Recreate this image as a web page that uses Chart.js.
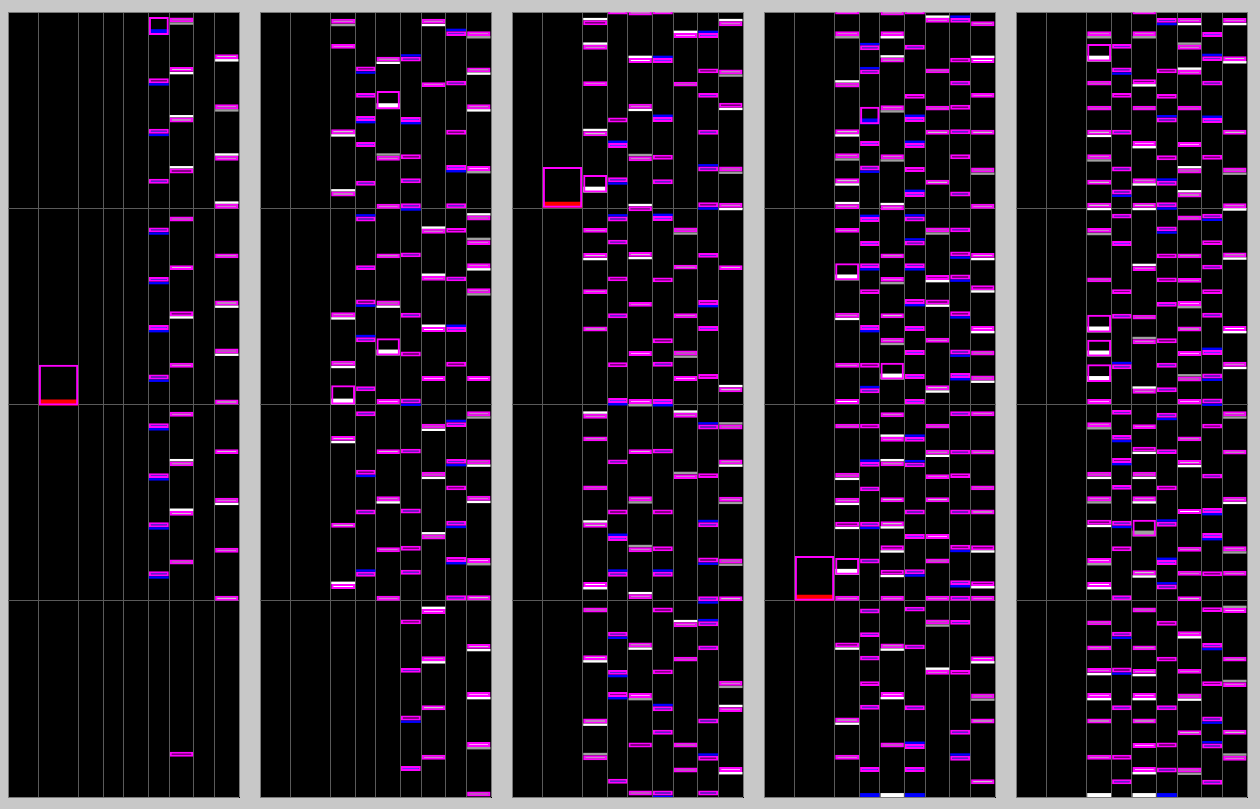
<!DOCTYPE html>
<html><head><meta charset="utf-8">
<script src="https://cdn.jsdelivr.net/npm/chart.js@4/dist/chart.umd.min.js"></script>
<style>
html,body{margin:0;padding:0;background:#c8c8c8;width:1260px;height:809px;overflow:hidden}
.panel{position:absolute;top:12px;width:232px;height:786px;background:#000}
canvas{display:block}
</style></head><body>
<div class="panel" style="left:8px"><canvas id="c0" width="232" height="786"></canvas></div>
<div class="panel" style="left:260px"><canvas id="c1" width="232" height="786"></canvas></div>
<div class="panel" style="left:512px"><canvas id="c2" width="232" height="786"></canvas></div>
<div class="panel" style="left:764px"><canvas id="c3" width="232" height="786"></canvas></div>
<div class="panel" style="left:1016px"><canvas id="c4" width="232" height="786"></canvas></div>
<script>
// ---- data ----
const columnWidths = [30.5, 40.5, 25, 20.5, 24.5, 21, 24.5, 21, 24.5];
const rowTicks = [0, 4, 8, 12, 16];
// mark kind: 1st char = inner colour (w white, p pink, v violet, d dark), 2nd = strip (upper = below, lower = above, '-' none)
const panel1Marks = [
  [], [], [], [], [],
  [[1.40,'dB'],[2.43,'vB'],[3.45,'v-'],[4.44,'vB'],[5.45,'vB'],[6.43,'vB'],[7.44,'vB'],[8.43,'vB'],[9.45,'vB'],[10.45,'vB'],[11.45,'vB']],
  [[0.16,'pG'],[1.17,'wW'],[2.20,'ww'],[3.24,'dw'],[4.22,'p-'],[5.21,'w-'],[6.15,'dW'],[7.20,'p-'],[8.20,'p-'],[9.21,'ww'],[10.22,'ww'],[11.21,'p-'],[15.13,'d-']],
  [],
  [[0.91,'wW'],[1.93,'pG'],[2.98,'pw'],[3.96,'pw'],[4.97,'w-'],[5.93,'wW'],[6.91,'pW'],[7.95,'w-'],[8.96,'w-'],[9.95,'pW'],[10.97,'p-'],[11.95,'w-']]
];
const panel2Marks = [
  [], [],
  [[0.19,'pG'],[0.70,'p-'],[2.44,'wW'],[3.71,'ww'],[6.17,'pW'],[7.16,'pW'],[8.69,'wW'],[10.46,'w-'],[11.71,'ww']],
  [[1.16,'dB'],[1.70,'v-'],[2.17,'vB'],[2.70,'v-'],[3.49,'v-'],[4.22,'vb'],[5.21,'v-'],[5.91,'dB'],[6.68,'vb'],[7.68,'v-'],[8.19,'v-'],[9.38,'dB'],[10.19,'v-'],[11.46,'vb']],
  [[0.96,'wW'],[2.98,'pg'],[3.96,'p-'],[4.97,'w-'],[5.93,'pW'],[7.94,'p-'],[8.96,'w-'],[9.92,'pW'],[10.96,'p-'],[11.95,'p-']],
  [[0.96,'vb'],[2.19,'vB'],[2.95,'d-'],[3.44,'v-'],[3.95,'vB'],[4.95,'v-'],[6.18,'v-'],[6.97,'d-'],[7.93,'vB'],[8.95,'v-'],[10.17,'v-'],[10.93,'d-'],[11.42,'v-'],[12.43,'d-'],[13.42,'v-'],[14.39,'dB'],[15.42,'v-']],
  [[0.19,'pW'],[1.48,'p-'],[4.47,'pw'],[5.43,'pw'],[6.47,'ww'],[7.47,'p-'],[8.44,'pW'],[9.42,'pW'],[10.70,'pw'],[12.22,'pw'],[13.18,'pW'],[14.18,'w-'],[15.19,'p-']],
  [[0.44,'vb'],[1.45,'v-'],[2.45,'d-'],[3.17,'vB'],[3.95,'v-'],[4.45,'d-'],[5.44,'v-'],[6.47,'vb'],[7.18,'d-'],[8.41,'vb'],[9.16,'vB'],[9.70,'d-'],[10.42,'vB'],[11.16,'dB'],[11.94,'v-']],
  [[0.44,'pG'],[1.18,'wW'],[1.93,'pW'],[3.19,'pG'],[4.20,'pw'],[4.70,'pg'],[5.17,'pW'],[5.68,'pG'],[7.47,'p-'],[8.19,'pG'],[9.17,'pW'],[9.91,'pW'],[11.18,'pG'],[11.94,'w-'],[12.93,'wW'],[13.91,'pW'],[14.93,'pG'],[15.94,'p-']]
];
const panel3Marks = [
  [], [],
  [[0.22,'dw'],[0.72,'pw'],[1.46,'p-'],[2.48,'ww'],[4.45,'p-'],[4.96,'wW'],[5.70,'p-'],[6.46,'w-'],[8.24,'pw'],[8.70,'w-'],[9.70,'p-'],[10.46,'ww'],[11.67,'wW'],[12.19,'p-'],[13.16,'wW'],[14.45,'wW'],[15.20,'pg']],
  [[0.0,'p-'],[2.20,'d-'],[2.72,'vb'],[3.42,'vB'],[4.22,'vb'],[4.69,'v-'],[5.44,'d-'],[6.19,'v-'],[7.19,'d-'],[7.92,'vB'],[9.17,'v-'],[10.19,'d-'],[10.73,'vb'],[11.46,'vb'],[12.68,'vB'],[13.46,'vB'],[13.91,'dB'],[15.68,'v-']],
  [[0.02,'p-'],[0.99,'ww'],[1.92,'pW'],[2.99,'pg'],[4.01,'dw'],[4.94,'wW'],[5.96,'p-'],[6.96,'p-'],[7.94,'pG'],[8.96,'w-'],[9.92,'pG'],[10.96,'pg'],[11.92,'pw'],[12.90,'wW'],[13.93,'pG'],[14.94,'d-'],[15.92,'p-']],
  [[0.0,'p-'],[0.99,'vb'],[2.19,'vb'],[2.96,'d-'],[3.46,'v-'],[4.21,'vb'],[5.46,'d-'],[6.70,'d-'],[7.18,'v-'],[7.94,'vB'],[8.95,'v-'],[10.19,'d-'],[10.94,'d-'],[11.46,'vb'],[12.19,'d-'],[13.45,'d-'],[14.20,'vb'],[14.68,'v-'],[15.92,'vB']],
  [[0.48,'pw'],[1.47,'p-'],[4.44,'pG'],[5.20,'w-'],[6.19,'p-'],[6.95,'pG'],[7.47,'p-'],[8.22,'pw'],[9.47,'pg'],[12.49,'pw'],[13.19,'p-'],[14.94,'p-'],[15.45,'p-']],
  [[0.48,'vb'],[1.20,'d-'],[1.70,'v-'],[2.45,'v-'],[3.20,'vb'],[3.93,'dB'],[4.96,'v-'],[5.92,'dB'],[6.45,'v-'],[7.43,'d-'],[8.46,'vb'],[9.45,'d-'],[10.45,'vb'],[11.17,'dB'],[11.96,'vB'],[12.47,'vb'],[12.96,'v-'],[14.45,'v-'],[15.21,'db'],[15.92,'v-']],
  [[0.24,'pw'],[1.22,'wG'],[1.90,'dW'],[3.20,'pG'],[3.94,'pW'],[5.21,'w-'],[7.70,'ww'],[8.46,'pg'],[9.17,'wW'],[9.93,'pG'],[11.19,'pG'],[11.96,'w-'],[13.68,'pG'],[14.22,'pw'],[15.44,'pW']]
];
const panel4Marks = [
  [], [],
  [[0.0,'p-'],[0.44,'pG'],[1.49,'pw'],[2.44,'wW'],[2.93,'pG'],[3.44,'wW'],[3.97,'pw'],[4.45,'p-'],[6.18,'pW'],[7.20,'p-'],[7.94,'w-'],[8.44,'p-'],[9.44,'pW'],[9.95,'pW'],[10.44,'dW'],[11.95,'p-'],[12.90,'dW'],[14.43,'wW'],[15.19,'p-']],
  [[0.73,'vb'],[1.22,'vb'],[2.68,'v-'],[3.18,'vB'],[4.23,'vb'],[4.72,'v-'],[5.17,'vB'],[5.70,'d-'],[6.43,'vB'],[7.20,'d-'],[7.72,'vb'],[8.44,'d-'],[9.22,'vb'],[9.72,'v-'],[10.44,'vB'],[11.19,'v-'],[12.21,'v-'],[12.69,'v-'],[13.17,'v-'],[13.69,'d-'],[14.17,'v-'],[15.44,'v-']],
  [[0.02,'p-'],[0.44,'pW'],[0.98,'ww'],[1.95,'pG'],[2.95,'pG'],[3.99,'pw'],[4.97,'w-'],[5.45,'pG'],[6.19,'w-'],[6.69,'pG'],[8.21,'p-'],[8.71,'pw'],[9.21,'ww'],[9.94,'w-'],[10.43,'wW'],[10.92,'dW'],[11.42,'dW'],[11.95,'p-'],[12.92,'wW'],[13.91,'pW'],[14.94,'p-']],
  [[0.0,'p-'],[0.72,'v-'],[1.72,'d-'],[2.19,'vb'],[2.72,'vb'],[3.21,'d-'],[3.72,'vb'],[4.22,'vb'],[4.71,'vb'],[5.17,'vB'],[5.90,'dB'],[6.45,'v-'],[6.94,'v-'],[7.43,'v-'],[7.94,'v-'],[8.71,'vb'],[9.23,'vb'],[10.19,'v-'],[10.69,'v-'],[11.41,'vB'],[12.17,'v-'],[12.94,'v-'],[14.18,'v-'],[14.97,'vb'],[15.44,'v-']],
  [[0.17,'pw'],[1.20,'p-'],[1.96,'p-'],[2.45,'w-'],[3.47,'w-'],[4.44,'pG'],[5.41,'dW'],[5.91,'dW'],[6.69,'p-'],[7.66,'wW'],[8.44,'p-'],[8.97,'wW'],[9.47,'p-'],[9.94,'w-'],[10.69,'p-'],[11.19,'p-'],[11.95,'p-'],[12.43,'pG'],[13.46,'pw']],
  [[0.17,'vb'],[0.98,'d-'],[1.45,'v-'],[1.94,'d-'],[2.44,'v-'],[2.95,'d-'],[3.71,'v-'],[4.44,'v-'],[4.93,'dB'],[5.40,'dB'],[6.15,'dB'],[6.93,'vB'],[7.41,'vB'],[8.19,'v-'],[8.97,'v-'],[9.45,'d-'],[10.19,'v-'],[10.91,'dB'],[11.63,'vB'],[11.95,'v-'],[12.44,'v-'],[13.46,'d-'],[14.68,'v-'],[15.21,'vb']],
  [[0.24,'p-'],[0.99,'ww'],[1.70,'p-'],[2.45,'w-'],[3.22,'pG'],[3.96,'p-'],[4.96,'wW'],[5.62,'dW'],[6.45,'pW'],[6.95,'p-'],[7.46,'pW'],[8.19,'p-'],[8.97,'w-'],[9.70,'p-'],[10.19,'w-'],[10.92,'dW'],[11.65,'dW'],[11.95,'p-'],[13.18,'wW'],[13.94,'pG'],[14.45,'w-'],[15.69,'w-']]
];
const panel5Marks = [
  [], [],
  [[0.44,'pG'],[1.45,'p-'],[1.96,'p-'],[2.45,'wW'],[2.95,'pG'],[3.47,'w-'],[3.94,'wW'],[4.45,'pG'],[5.46,'p-'],[7.94,'p-'],[8.41,'pG'],[9.42,'pW'],[9.92,'pG'],[10.40,'dW'],[11.18,'pG'],[11.67,'wW'],[12.45,'p-'],[12.96,'w-'],[13.42,'pW'],[13.93,'pW'],[14.45,'w-'],[15.19,'p-']],
  [[0.70,'v-'],[1.18,'vB'],[1.70,'d-'],[2.45,'v-'],[3.20,'v-'],[3.67,'vB'],[4.16,'v-'],[4.72,'v-'],[5.70,'d-'],[6.20,'v-'],[7.23,'vb'],[8.16,'v-'],[8.67,'vB'],[9.14,'dB'],[9.69,'v-'],[10.42,'vB'],[10.94,'d-'],[11.94,'v-'],[12.68,'vB'],[13.41,'dB'],[14.18,'v-'],[15.19,'d-'],[15.69,'v-']],
  [[0.0,'p-'],[0.44,'pG'],[1.42,'dW'],[1.96,'p-'],[2.68,'pW'],[3.44,'pW'],[3.94,'wW'],[5.23,'pw'],[6.22,'p-'],[6.72,'pg'],[7.73,'pw'],[8.45,'p-'],[8.91,'dW'],[9.42,'pW'],[9.92,'pW'],[11.43,'wW'],[12.19,'p-'],[12.96,'w-'],[13.44,'pW'],[13.93,'pW'],[14.45,'w-'],[14.95,'p-'],[15.44,'pW']],
  [[0.17,'vB'],[1.20,'d-'],[1.72,'d-'],[2.20,'vb'],[2.97,'d-'],[3.49,'vb'],[3.93,'vB'],[4.42,'vB'],[4.97,'d-'],[5.46,'d-'],[5.96,'v-'],[6.70,'d-'],[7.20,'v-'],[7.70,'v-'],[8.22,'vB'],[8.96,'v-'],[9.70,'d-'],[10.44,'vb'],[11.22,'vb'],[11.72,'vb'],[12.46,'d-'],[13.19,'d-'],[14.18,'v-'],[14.94,'d-'],[15.45,'v-']],
  [[0.17,'pW'],[0.72,'pg'],[1.23,'pw'],[1.96,'p-'],[2.70,'p-'],[3.24,'pw'],[3.73,'ww'],[4.20,'p-'],[4.97,'w-'],[5.47,'p-'],[5.94,'pG'],[6.46,'w-'],[6.96,'p-'],[7.48,'pg'],[7.94,'p-'],[8.70,'w-'],[9.18,'wW'],[10.18,'w-'],[10.95,'p-'],[11.44,'p-'],[11.96,'w-'],[12.67,'pW'],[13.44,'p-'],[13.94,'pW'],[14.69,'w-'],[15.45,'pG']],
  [[0.46,'v-'],[0.95,'vb'],[1.45,'v-'],[2.21,'vb'],[2.96,'d-'],[4.16,'vB'],[4.70,'d-'],[5.20,'v-'],[5.70,'d-'],[6.18,'v-'],[6.94,'vb'],[7.42,'vB'],[7.93,'vB'],[8.44,'d-'],[9.46,'v-'],[10.16,'vB'],[10.67,'vB'],[11.45,'d-'],[12.18,'d-'],[12.91,'vB'],[13.69,'d-'],[14.41,'vB'],[14.96,'vb'],[15.70,'v-']],
  [[0.17,'pW'],[0.95,'wW'],[2.45,'w-'],[3.22,'pG'],[3.95,'pW'],[4.95,'wW'],[6.45,'wW'],[7.18,'pW'],[8.19,'pG'],[8.97,'w-'],[9.93,'pW'],[10.94,'pG'],[11.44,'p-'],[12.20,'pg'],[13.19,'w-'],[13.71,'pg'],[14.68,'w-'],[15.21,'pg']]
];
// boxes: [column, top, bottom, fill]
const panel1Boxes = [[1,7.19,8.02,'R'],[5,0.10,0.47,'B']];
const panel2Boxes = [[2,7.61,8.00,'W'],[4,1.61,1.98,'W'],[4,6.65,7.00,'W']];
const panel3Boxes = [[1,3.16,3.99,'R'],[2,3.32,3.68,'W']];
const panel4Boxes = [[1,11.09,12.00,'R'],[2,5.12,5.47,'W'],[2,11.13,11.47,'W'],[3,1.93,2.29,'B'],[4,7.15,7.49,'W']];
const panel5Boxes = [[2,0.65,1.01,'W'],[2,6.17,6.53,'W'],[2,6.68,7.02,'W'],[2,7.18,7.54,'W'],[4,10.35,10.69,'G']];
// strips touching the bottom edge: [column, colour]
const panel1Edge = [];
const panel2Edge = [];
const panel3Edge = [];
const panel4Edge = [[3,'B'],[4,'W'],[5,'B']];
const panel5Edge = [[2,'W'],[4,'W'],[5,'B']];

// ---- styling ----
const MARK_H = 0.1, STRIP_H = 0.05, BOX_FILL = 0.12;
const MAGENTA = '#ff00ff';
const INNER = {w:'#ffffff', p:'#ffa0ff', v:'#6a28ff', d:'#8a008a'};
const STRIPC = {W:'#ffffff', G:'#a0a0a0', B:'#0000ff', R:'#ff0000'};

const edges = columnWidths.reduce((a,w)=>{a.push(a[a.length-1]+w);return a;},[0]);
const total = edges[edges.length-1];
const center = c => (edges[c]+edges[c+1])/2;

function buildPanel(id, marks, boxes, edgeStrips){
  const canvas = document.getElementById(id);
  const ppu = (canvas.width-1)/total;
  const thick = c => columnWidths[c]*ppu - 1;
  const datasets = [];
  const base = {type:'bar', grouped:false, borderSkipped:false, inflateAmount:0};
  marks.forEach((col,c)=>{
    if(!col.length) return;
    const x = center(c);
    datasets.push(Object.assign({}, base, {
      data: col.map(([y])=>({x, y:[y-MARK_H/2, y+MARK_H/2]})),
      backgroundColor: col.map(([,k])=>INNER[k[0]]),
      borderColor: MAGENTA, borderWidth: 2, barThickness: thick(c), order: 1
    }));
    const st = col.filter(([,k])=>k[1] !== '-');
    datasets.push(Object.assign({}, base, {
      data: st.map(([y,k])=>{
        const below = k[1] === k[1].toUpperCase();
        return {x, y: below ? [y+MARK_H/2, y+MARK_H/2+STRIP_H] : [y-MARK_H/2-STRIP_H, y-MARK_H/2]};
      }),
      backgroundColor: st.map(([,k])=>STRIPC[k[1].toUpperCase()]),
      borderWidth: 0, barThickness: thick(c), order: 2
    }));
  });
  boxes.forEach(([c,top,bot,f])=>{
    const x = center(c);
    datasets.push(Object.assign({}, base, {
      data:[{x, y:[bot-BOX_FILL, bot]}], backgroundColor: STRIPC[f], borderWidth:0,
      barThickness: thick(c), order: 3
    }));
    datasets.push(Object.assign({}, base, {
      data:[{x, y:[top, bot]}], backgroundColor:'rgba(0,0,0,0)', borderColor: MAGENTA, borderWidth:2,
      barThickness: thick(c), order: 0
    }));
  });
  edgeStrips.forEach(([c,f])=>{
    datasets.push(Object.assign({}, base, {
      data:[{x:center(c), y:[16-STRIP_H*1.6, 16]}], backgroundColor: STRIPC[f], borderWidth:0,
      barThickness: thick(c), order: 2
    }));
  });
  const gridColor = ctx => (ctx.index === 0 || ctx.index === ctx.scale.ticks.length-1) ? '#7a7a7a' : '#5a5a5a';
  new Chart(canvas, {
    type:'bar',
    data:{datasets},
    options:{
      responsive:false, animation:false, devicePixelRatio:1, events:[],
      layout:{padding:{left:0, top:0, right:1, bottom:1}},
      plugins:{legend:{display:false}, tooltip:{enabled:false}},
      scales:{
        x:{type:'linear', min:0, max:total, offset:false,
           afterBuildTicks: s => { s.ticks = edges.map(v=>({value:v})); },
           ticks:{display:false}, grid:{color:gridColor, drawTicks:false, lineWidth:1, offset:false}, border:{display:false}},
        y:{type:'linear', reverse:true, min:0, max:16,
           afterBuildTicks: s => { s.ticks = rowTicks.map(v=>({value:v})); },
           ticks:{display:false}, grid:{color:gridColor, drawTicks:false, lineWidth:1, offset:false}, border:{display:false}}
      }
    }
  });
}
buildPanel('c0', panel1Marks, panel1Boxes, panel1Edge);
buildPanel('c1', panel2Marks, panel2Boxes, panel2Edge);
buildPanel('c2', panel3Marks, panel3Boxes, panel3Edge);
buildPanel('c3', panel4Marks, panel4Boxes, panel4Edge);
buildPanel('c4', panel5Marks, panel5Boxes, panel5Edge);
</script>
</body></html>
